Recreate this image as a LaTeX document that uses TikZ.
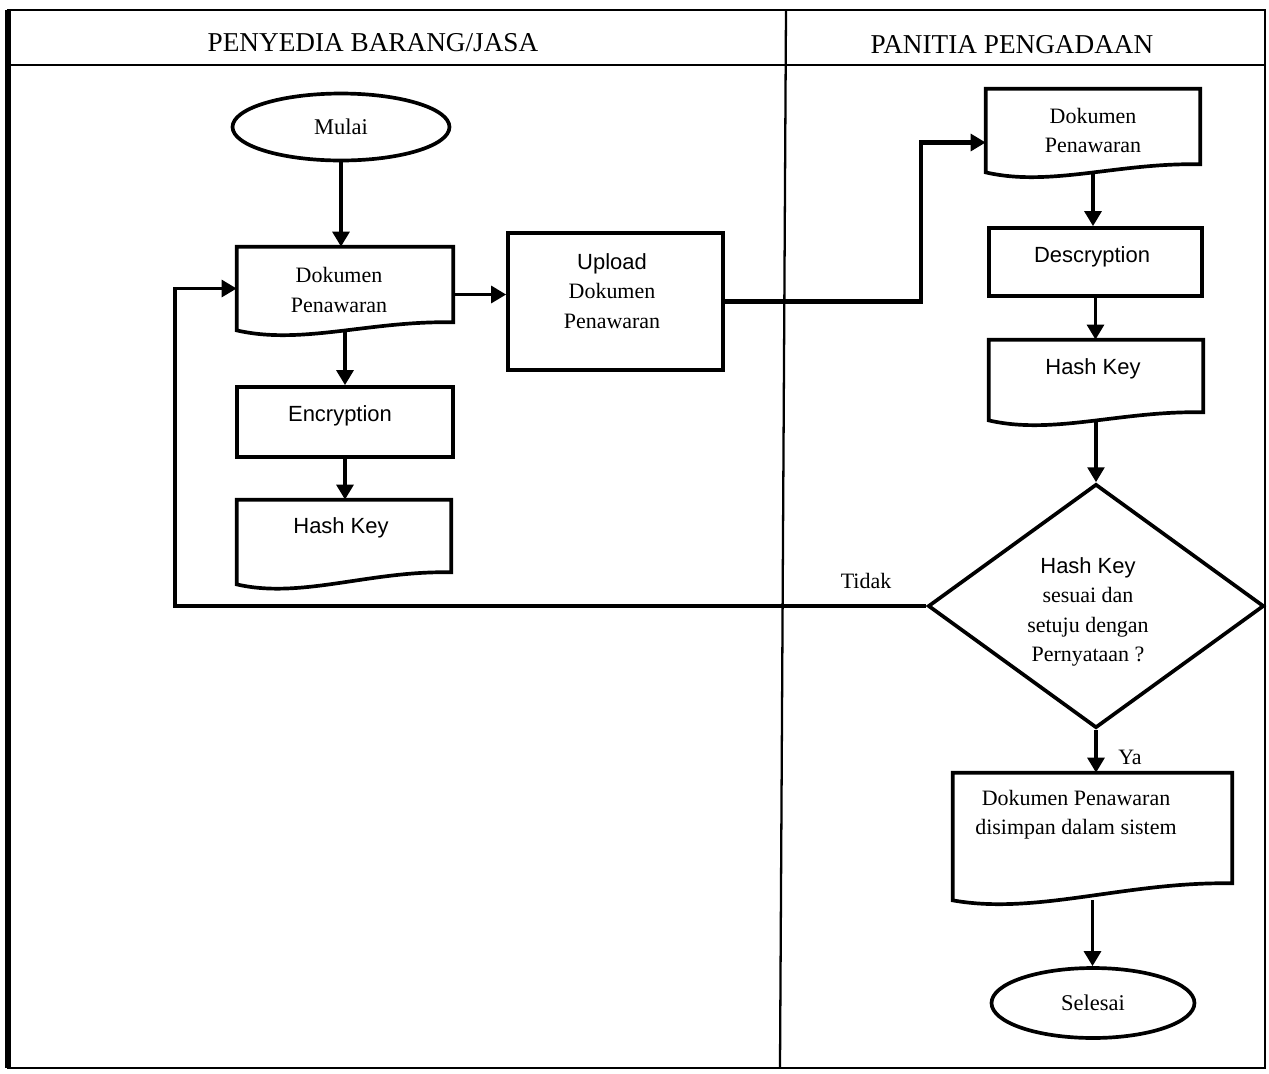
\documentclass[tikz,border=0pt]{standalone}
\usepackage{fontspec}
\setmainfont{Liberation Serif}
\setsansfont{Liberation Sans}
\usetikzlibrary{shapes.geometric,arrows.meta,calc}

% Document symbol: rectangle body with a wavy bottom edge; #2 = rise of the right end
\newcommand{\docshape}[2]{%
  \draw[shapeline] ($(#1.south east)+(0,-#2)$) -- (#1.north east) -- (#1.north west) -- (#1.south west)
    .. controls ($(#1.south west)!0.3!(#1.south east)+(0,15)$)
       and ($(#1.south west)!0.62!(#1.south east)+(0,-#2-2)$) .. ($(#1.south east)+(0,-#2)$) -- cycle;}

\begin{document}
\begin{tikzpicture}[x=0.02cm,y=-0.02cm,
  shapeline/.style={line width=2.1pt, line join=miter},
  boxnode/.style={draw, shapeline, rectangle, inner sep=0pt, align=center,
    font=\sffamily\fontsize{12.5}{15}\selectfont},
  docbody/.style={rectangle, inner sep=0pt, align=center,
    font=\fontsize{12.5}{16.7}\selectfont},
  term/.style={draw, shapeline, ellipse, inner sep=0pt,
    font=\fontsize{12.8}{15}\selectfont},
  decision/.style={draw, shapeline, diamond, inner sep=0pt},
  flow/.style={line width=2pt, -{Triangle[length=8.5pt,width=9.5pt]}},
  lbl/.style={align=center, inner sep=0pt, font=\fontsize{12.5}{16.7}\selectfont},
  sflbl/.style={align=center, inner sep=0pt, font=\sffamily\fontsize{12.5}{16.7}\selectfont},
  lanetitle/.style={inner sep=0pt, font=\fontsize{15.5}{18}\selectfont}
]
\useasboundingbox (0,0) rectangle (1269,1073);

% swimlane frame
\draw[line width=1.5pt] (8,10) rectangle (1265,1068);
\draw[line width=3pt] (8,10) -- (8,1068);
\draw[line width=1.5pt] (8,65) -- (1265,65);
\draw[line width=1.3pt] (786,10) -- (780,1068);
\node[lanetitle] (laneA) at (373,43) {PENYEDIA BARANG/JASA};
\node[lanetitle] (laneB) at (1012,45) {PANITIA PENGADAAN};

% supplier lane
\node[term, minimum width=4.34cm, minimum height=1.34cm] (mulai) at (341,127) {Mulai};
\node[docbody, minimum width=4.32cm, minimum height=1.66cm] (dok1) at (345,288.5) {};
\docshape{dok1}{8}
\node[lbl] (dok1t) at (339,290) {Dokumen\\Penawaran};
\node[boxnode, minimum width=4.32cm, minimum height=1.40cm] (enc) at (345,422) {};
\node[sflbl] (enct) at (340,416) {Encryption};
\node[docbody, minimum width=4.28cm, minimum height=1.68cm] (hk1) at (344,542) {};
\docshape{hk1}{12}
\node[sflbl] (hk1t) at (341,528) {Hash Key};
\node[boxnode, minimum width=4.30cm, minimum height=2.74cm] (up) at (615.5,301.5) {};
\node[lbl] (upt) at (612,291) {\sffamily Upload\\Dokumen\\Penawaran};

% committee lane
\node[docbody, minimum width=4.28cm, minimum height=1.66cm] (dok2) at (1093,130.5) {Dokumen\\Penawaran};
\docshape{dok2}{8}
\node[boxnode, minimum width=4.26cm, minimum height=1.36cm] (desc) at (1095.5,262) {};
\node[sflbl] (desct) at (1092,257) {Descryption};
\node[docbody, minimum width=4.28cm, minimum height=1.60cm] (hk2) at (1096,380) {};
\docshape{hk2}{8}
\node[sflbl] (hk2t) at (1093,369) {Hash Key};
\node[decision, minimum width=6.72cm, minimum height=4.88cm] (dia) at (1096,606) {};
\node[lbl] (diat) at (1088,612) {\sffamily Hash Key\\sesuai dan\\setuju dengan\\Pernyataan ?};
\node[docbody, minimum width=5.58cm, minimum height=2.54cm] (dok3) at (1092.5,836.5) {};
\docshape{dok3}{17}
\node[lbl] (dok3t) at (1076,815) {Dokumen Penawaran\\disimpan dalam sistem};
\node[term, minimum width=4.06cm, minimum height=1.40cm] (sel) at (1093,1003) {Selesai};

% connectors
\coordinate (loopx) at (175,605);
\coordinate (bendx) at (921,302);
\draw[flow] (mulai.south) -- (mulai.south |- dok1.north);
\draw[flow] (dok1.south) -- (enc.north);
\draw[flow] (enc.south) -- (enc.south |- hk1.north);
\draw[flow] ($(dok1.east)+(0,6)$) -- ($(dok1.east -| up.west)+(0,6)$);
\draw[line width=2.6pt, -{Triangle[length=8.5pt,width=9.5pt]}]
  (up.east) -- (up.east -| bendx) |- ($(dok2.west)+(0,12)$);
\draw[flow] (dok2.south) -- (dok2.south |- desc.north);
\draw[flow] (desc.south) -- (desc.south |- hk2.north);
\draw[flow] (hk2.south) -- (hk2.south |- dia.north);
\draw[flow] (dia.west) -- (dia.west -| loopx) |- (dok1.west);
\node[lbl] (tidak) at (866,581) {Tidak};
\draw[flow] (dia.south) -- (dia.south |- dok3.north);
\node[lbl] (ya) at (1130,757) {Ya};
\draw[flow] (dok3.south) -- (dok3.south |- sel.north);
\end{tikzpicture}
\end{document}
